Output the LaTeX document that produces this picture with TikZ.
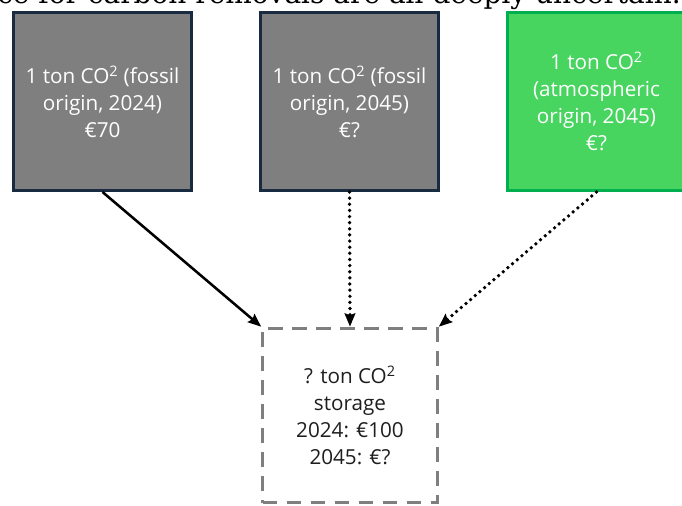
\documentclass[tikz,border=0pt]{standalone}
\usepackage{fontspec}
\setmainfont{Open Sans}
\newfontfamily\headfont{DejaVu Serif}
\usetikzlibrary{arrows.meta}
\definecolor{boxgray}{HTML}{7F7F7F}
\definecolor{boxnavy}{HTML}{182B40}
\definecolor{boxgreen}{HTML}{47D45F}
\definecolor{boxgreenline}{HTML}{00B050}
\definecolor{storeline}{HTML}{7F7F7F}
\definecolor{storetext}{HTML}{1E1E1E}
\begin{document}
\begin{tikzpicture}[x=0.75pt,y=-0.75pt,
  srcbox/.style={draw=boxnavy, fill=boxgray, line width=2.25pt,
    minimum width=133.5pt, minimum height=133.5pt, inner sep=0pt,
    text=white, align=center, font=\fontsize{15.5}{20.25}\selectfont},
  greenbox/.style={srcbox, draw=boxgreenline, fill=boxgreen},
  storebox/.style={draw=storeline, line width=2.25pt,
    dash pattern=on 11pt off 7pt,
    minimum width=131pt, minimum height=131pt, inner sep=0pt,
    text=storetext, align=center, font=\fontsize{15.5}{20.25}\selectfont},
  solidarrow/.style={line width=1.9pt, -{Stealth[length=10pt,width=8pt,inset=1.5pt]}},
  dotarrow/.style={solidarrow, line width=2.8pt, line cap=round, dash pattern=on 0pt off 4.6pt}
]
\useasboundingbox (0,0) rectangle (682,506);
\clip (0,0) rectangle (682,506);

\node[anchor=base west, inner sep=0pt, font=\headfont\fontsize{21}{21}\selectfont] (head) at (-3,4)
  {ce for carbon removals are all deeply uncertain.};

\node[srcbox] (b1) at (102.5,101.5) {1 ton CO\textsuperscript{2} (fossil\\origin, 2024)\\€70};
\node[srcbox] (b2) at (349.5,101.5) {1 ton CO\textsuperscript{2} (fossil\\origin, 2045)\\€?};
\node[greenbox] (b3) at (596.5,101.5) {1 ton CO\textsuperscript{2}\\(atmospheric\\origin, 2045)\\€?};

\node[storebox] (st) at (350,415.5) {? ton CO\textsuperscript{2}\\storage\\2024: €100\\2045: €?};

\draw[solidarrow] (b1.south) -- (st.north west);
\draw[dotarrow] (b2.south) -- (st.north);
\draw[dotarrow] (b3.south) -- (st.north east);
\end{tikzpicture}
\end{document}
